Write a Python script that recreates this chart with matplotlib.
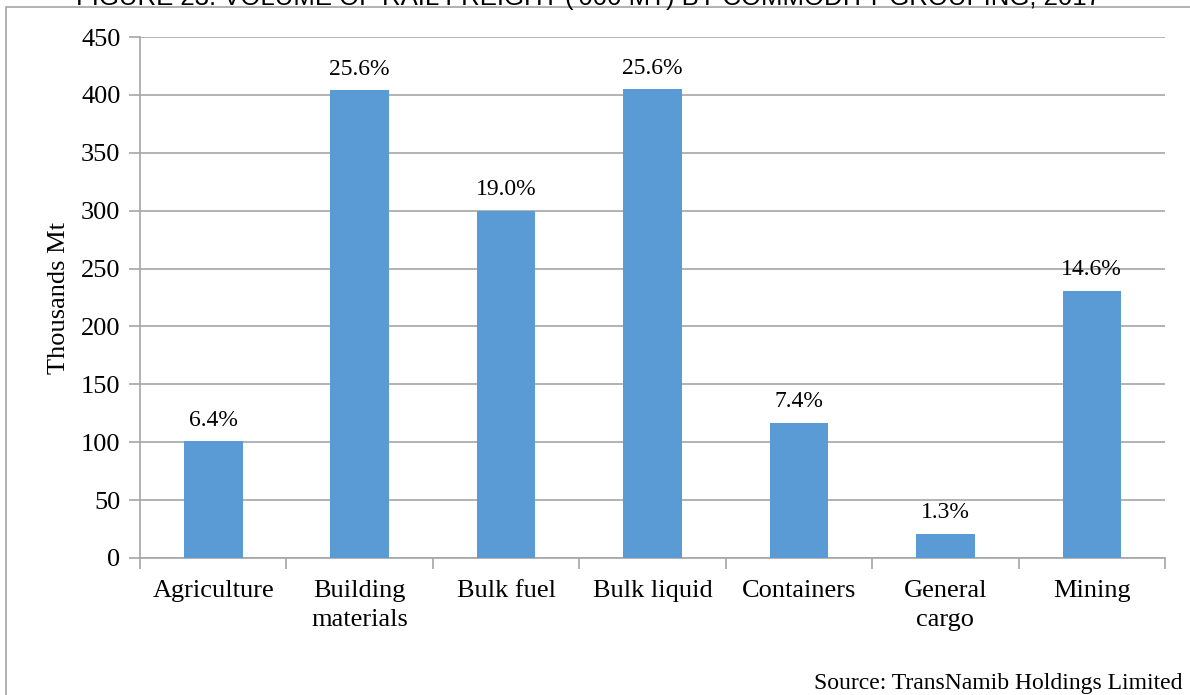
import matplotlib
matplotlib.use('Agg')
import matplotlib.pyplot as plt
from matplotlib.patches import Rectangle
import numpy as np

categories = ['Agriculture', 'Building\nmaterials', 'Bulk fuel', 'Bulk liquid',
              'Containers', 'General\ncargo', 'Mining']
volumes = [101, 404, 300, 405, 117, 21, 231]
shares = ['6.4%', '25.6%', '19.0%', '25.6%', '7.4%', '1.3%', '14.6%']
yticks = [0, 50, 100, 150, 200, 250, 300, 350, 400, 450]

title = "FIGURE 23: VOLUME OF RAIL FREIGHT ('000 MT) BY COMMODITY GROUPING, 2017"
source = 'Source: TransNamib Holdings Limited'

plt.rcParams['font.family'] = ['Liberation Serif', 'DejaVu Serif']

fig = plt.figure(figsize=(11.9, 6.95), dpi=100)
ax = fig.add_axes([140 / 1190, 1 - 558 / 695, 1025 / 1190, 521 / 695])

grid_col = '#A6A6A6'
xpos = np.arange(len(categories))
ax.bar(xpos, volumes, width=0.4, color='#5B9BD5', zorder=3)
for x, v, s in zip(xpos, volumes, shares):
    ax.text(x, v + 9, s, ha='center', va='bottom', fontsize=17, color='black')

ax.set_xlim(-0.5, len(categories) - 0.5)
ax.set_ylim(0, 450)
ax.set_yticks(yticks)
ax.set_xticks(xpos)
ax.set_xticklabels(categories, fontsize=19, linespacing=1.4)
ax.set_xticks(np.arange(-0.5, len(categories)), minor=True)
ax.tick_params(axis='x', which='major', length=0, pad=16)
ax.tick_params(axis='x', which='minor', length=8, color=grid_col, width=1.2)
ax.tick_params(axis='y', length=8, color=grid_col, width=1.2, labelsize=19, pad=6)
ax.yaxis.grid(True, color=grid_col, linewidth=1.2, zorder=0)
for side in ['top', 'right']:
    ax.spines[side].set_visible(False)
for side in ['left', 'bottom']:
    ax.spines[side].set_color(grid_col)
    ax.spines[side].set_linewidth(1.2)
ax.set_ylabel('Thousands Mt', fontsize=19, labelpad=8)

# outer frame of the chart area (runs off the right and bottom edges)
fig.patches.append(Rectangle((6 / 1190, -0.1), 1.2, 1 - 7 / 695 + 0.1,
                             transform=fig.transFigure, fill=False,
                             edgecolor='#A6A6A6', linewidth=1.2))

fig.text(588 / 1190, 1 - 5 / 695, title, ha='center', va='baseline', fontsize=18.5,
         family=['Liberation Sans', 'DejaVu Sans'])
fig.text(1183 / 1190, 1 - 683 / 695, source, ha='right', va='center', fontsize=17)

fig.savefig('out.png', dpi=100)
